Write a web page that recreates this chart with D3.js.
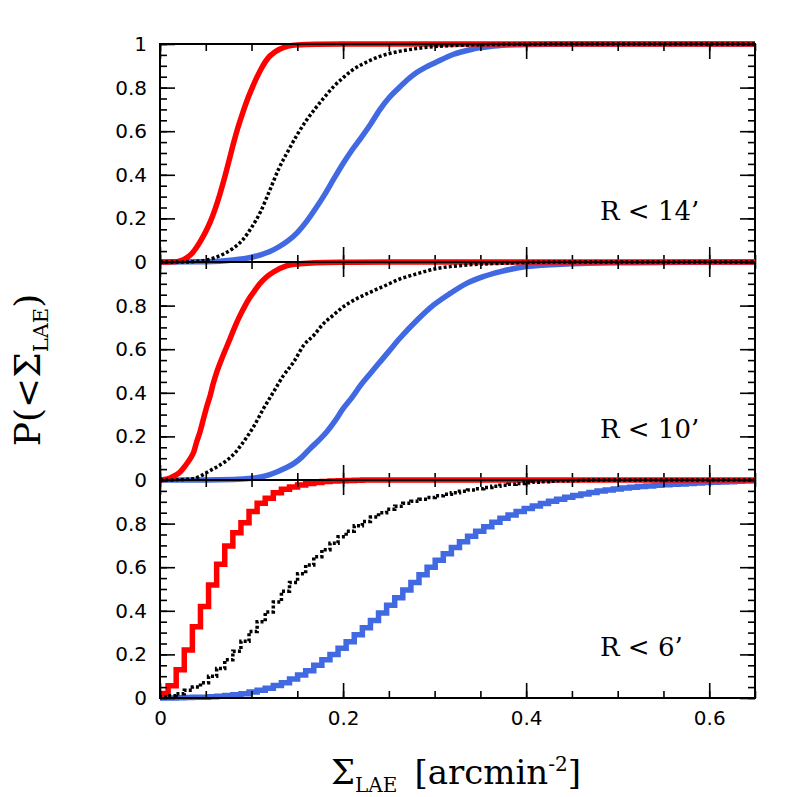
<!DOCTYPE html>
<html>
<head>
<meta charset="utf-8">
<script src="https://cdnjs.cloudflare.com/ajax/libs/d3/7.8.5/d3.min.js"></script>
<style>
  body { margin: 0; background: #fff; }
  .tick text { font-family: "DejaVu Sans", sans-serif; font-size: 20px; fill: #000; }
  .tick line { stroke: #000; stroke-width: 1.6px; }
  .label { font-family: "DejaVu Serif", serif; fill: #000; }
</style>
</head>
<body>
<div class="entries"></div>
<script>
// P(<Sigma) curves as [sigma, P] pairs
var top_red = [[0,0],[0.015,0.001],[0.02,0.003],[0.025,0.009],[0.03,0.022],[0.035,0.04],[0.04,0.068],[0.045,0.102],[0.05,0.14],[0.055,0.185],[0.06,0.24],[0.065,0.305],[0.07,0.378],[0.075,0.458],[0.08,0.54],[0.085,0.615],[0.09,0.68],[0.095,0.74],[0.1,0.792],[0.105,0.84],[0.11,0.882],[0.115,0.918],[0.12,0.945],[0.125,0.962],[0.13,0.975],[0.14,0.99],[0.15,0.996],[0.17,0.999],[0.2,1],[0.65,1]];
var top_black = [[0,0],[0.03,0],[0.04,0.003],[0.051,0.009],[0.06,0.02],[0.07,0.038],[0.08,0.063],[0.09,0.1],[0.1,0.158],[0.11,0.232],[0.12,0.33],[0.13,0.43],[0.14,0.51],[0.15,0.585],[0.16,0.65],[0.17,0.706],[0.18,0.758],[0.19,0.806],[0.2,0.845],[0.21,0.88],[0.22,0.905],[0.23,0.926],[0.24,0.943],[0.26,0.965],[0.28,0.979],[0.3,0.988],[0.32,0.993],[0.35,0.997],[0.4,0.999],[0.45,1],[0.65,1]];
var top_blue = [[0,0],[0.05,0.001],[0.08,0.009],[0.1,0.022],[0.11,0.033],[0.12,0.048],[0.13,0.07],[0.14,0.098],[0.15,0.135],[0.16,0.185],[0.17,0.245],[0.18,0.31],[0.19,0.382],[0.2,0.452],[0.21,0.515],[0.22,0.572],[0.23,0.632],[0.24,0.698],[0.25,0.752],[0.26,0.795],[0.27,0.835],[0.28,0.868],[0.29,0.893],[0.3,0.913],[0.32,0.952],[0.34,0.975],[0.36,0.988],[0.38,0.995],[0.4,0.998],[0.45,1],[0.65,1]];

var mid_red = [[0,0],[0.005,0.002],[0.011,0.009],[0.016,0.02],[0.022,0.037],[0.027,0.062],[0.033,0.098],[0.037,0.13],[0.04,0.174],[0.044,0.225],[0.0475,0.281],[0.051,0.335],[0.055,0.39],[0.058,0.44],[0.062,0.495],[0.069,0.572],[0.0765,0.648],[0.082,0.705],[0.0875,0.755],[0.093,0.8],[0.0985,0.839],[0.104,0.872],[0.109,0.9],[0.116,0.93],[0.124,0.954],[0.138,0.982],[0.153,0.992],[0.17,0.997],[0.2,0.999],[0.25,1],[0.65,1]];
var mid_black = [[0,0],[0.02,0.001],[0.03,0.003],[0.0365,0.006],[0.045,0.02],[0.055,0.044],[0.064,0.065],[0.073,0.09],[0.082,0.125],[0.091,0.174],[0.102,0.243],[0.113,0.327],[0.124,0.404],[0.135,0.48],[0.146,0.541],[0.157,0.618],[0.168,0.664],[0.1785,0.717],[0.189,0.755],[0.2,0.794],[0.215,0.832],[0.23,0.862],[0.245,0.89],[0.262,0.922],[0.28,0.945],[0.3,0.968],[0.335,0.986],[0.372,0.994],[0.4,0.998],[0.45,1],[0.65,1]];
var mid_blue = [[0,0],[0.05,0],[0.08,0.002],[0.1,0.008],[0.11,0.014],[0.12,0.025],[0.1275,0.037],[0.137,0.055],[0.146,0.075],[0.155,0.105],[0.164,0.144],[0.173,0.18],[0.182,0.22],[0.191,0.27],[0.2,0.327],[0.21,0.38],[0.219,0.434],[0.23,0.49],[0.24,0.54],[0.25,0.59],[0.262,0.65],[0.281,0.734],[0.299,0.803],[0.317,0.856],[0.335,0.902],[0.353,0.933],[0.372,0.956],[0.4,0.979],[0.444,0.991],[0.517,0.997],[0.6,1],[0.65,1]];

// R < 6': cumulative fraction for counts N = 0,1,2,... inside the circle
var r6_red = [0.021,0.056,0.13,0.22,0.327,0.42,0.518,0.613,0.697,0.758,0.804,0.855,0.893,0.916,0.942,0.957,0.968,0.977,0.984,0.989,0.993,0.995,0.997,0.998,0.999,1];
var r6_black = [0.005,0.01,0.02,0.035,0.05,0.07,0.1,0.135,0.175,0.215,0.26,0.305,0.35,0.395,0.44,0.49,0.53,0.57,0.61,0.648,0.68,0.71,0.74,0.765,0.79,0.81,0.83,0.85,0.866,0.88,0.893,0.903,0.912,0.92,0.928,0.935,0.942,0.948,0.954,0.96,0.966,0.971,0.976,0.98,0.984,0.987,0.99,0.992,0.994,0.996,0.997,0.998,0.999,1];
var r6_blue = [0,0,0.001,0.002,0.003,0.004,0.006,0.008,0.011,0.015,0.02,0.027,0.035,0.045,0.057,0.07,0.087,0.105,0.125,0.15,0.175,0.2,0.228,0.258,0.29,0.322,0.355,0.39,0.425,0.46,0.495,0.53,0.565,0.6,0.632,0.662,0.69,0.717,0.742,0.765,0.786,0.806,0.824,0.84,0.855,0.869,0.881,0.892,0.902,0.912,0.921,0.929,0.936,0.943,0.949,0.954,0.959,0.963,0.967,0.97,0.973,0.976,0.978,0.98,0.982,0.984,0.986,0.988,0.99,0.991,0.992,0.994,0.995,0.996,0.998,1];
var r6_area = Math.PI * 6 * 6; // arcmin^2

var panelLabels = ["R < 14\u2019", "R < 10\u2019", "R < 6\u2019"];
var sigmaTicks = [0, 0.2, 0.4, 0.6];
var probTicksTop = [0, 0.2, 0.4, 0.6, 0.8, 1];
var probTicks = [0, 0.2, 0.4, 0.6, 0.8];

var w = 797, h = 797;
var left = 160, right = 755, top0 = 44, ph = 218;

var vis = d3.select(".entries").append("svg")
    .attr("width", w)
    .attr("height", h)
    .style("background", "#fff");

var x = d3.scaleLinear().domain([0, 0.65]).range([left, right]);
var minorX = d3.range(0, 0.651, 0.05);
var minorY = d3.range(0, 1.001, 0.05);

function toCounts(cum) {
  var pts = [[0, 0]];
  cum.forEach(function(p, n) { pts.push([n / r6_area, p]); });
  pts.push([0.65, cum[cum.length - 1]]);
  return pts;
}

var panels = [
  {lines: [top_blue, top_red, top_black], step: false, ticks: probTicksTop},
  {lines: [mid_blue, mid_red, mid_black], step: false, ticks: probTicks},
  {lines: [toCounts(r6_blue), toCounts(r6_red), toCounts(r6_black)], step: true, ticks: probTicks}
];
var colors = ["#4169e1", "#ff0000", "#000"];

panels.forEach(function(p, i) {
  var t = top0 + i * ph, b = t + ph;
  var y = d3.scaleLinear().domain([0, 1]).range([b, t]);
  var g = vis.append("g");

  g.append("clipPath").attr("id", "clip" + i)
    .append("rect").attr("x", left).attr("y", t - 6).attr("width", right - left).attr("height", ph + 12);

  var line = d3.line()
    .x(function(d) { return x(d[0]); })
    .y(function(d) { return y(d[1]); })
    .curve(p.step ? d3.curveStepAfter : d3.curveMonotoneX);

  var lines = g.append("g").attr("clip-path", "url(#clip" + i + ")");
  p.lines.forEach(function(d, k) {
    lines.append("path")
      .attr("d", line(d))
      .attr("fill", "none")
      .attr("stroke", colors[k])
      .attr("stroke-width", k == 2 ? 3.5 : 5.5)
      .attr("stroke-dasharray", k == 2 ? "3,2.2" : null);
  });

  // axes: inward ticks on all four sides, major + minor
  function ax(axis, scale, vals, size, tx, ty, labels) {
    var a = axis(scale).tickValues(vals).tickSize(size).tickSizeOuter(0).tickPadding(13);
    if (labels) a.tickFormat(d3.format("~g")); else a.tickFormat("");
    var s = g.append("g").attr("transform", "translate(" + tx + "," + ty + ")").call(a);
    s.select(".domain").remove();
    return s;
  }
  ax(d3.axisLeft, y, p.ticks, -15, left, 0, true);
  ax(d3.axisLeft, y, minorY, -7, left, 0, false);
  ax(d3.axisRight, y, probTicksTop, -15, right, 0, false);
  ax(d3.axisRight, y, minorY, -7, right, 0, false);
  ax(d3.axisBottom, x, sigmaTicks, -15, 0, b, i == 2);
  ax(d3.axisBottom, x, minorX, -7, 0, b, false);
  ax(d3.axisTop, x, sigmaTicks, -15, 0, t, false);
  ax(d3.axisTop, x, minorX, -7, 0, t, false);

  g.append("rect")
    .attr("x", left).attr("y", t).attr("width", right - left).attr("height", ph)
    .attr("fill", "none").attr("stroke", "#000").attr("stroke-width", 2);

  g.append("text").attr("class", "label")
    .attr("x", 600).attr("y", b - 42)
    .style("font-size", "26px")
    .text(panelLabels[i]);
});

// axis titles
var yl = vis.append("text").attr("class", "label")
  .attr("transform", "translate(40,370) rotate(-90)")
  .attr("text-anchor", "middle")
  .style("font-size", "36px");
yl.append("tspan").text("P(<\u03a3");
yl.append("tspan").attr("dy", 8).style("font-size", "21px").text("LAE");
yl.append("tspan").attr("dy", -8).text(")");

var xl = vis.append("text").attr("class", "label")
  .attr("x", 456).attr("y", 784)
  .attr("text-anchor", "middle")
  .style("font-size", "34px");
xl.append("tspan").text("\u03a3");
xl.append("tspan").attr("dy", 8).style("font-size", "20px").text("LAE");
xl.append("tspan").attr("dy", -8).text("\u2002[arcmin");
xl.append("tspan").attr("dy", -13).style("font-size", "20px").text("-2");
xl.append("tspan").attr("dy", 13).text("]");
</script>
</body>
</html>
